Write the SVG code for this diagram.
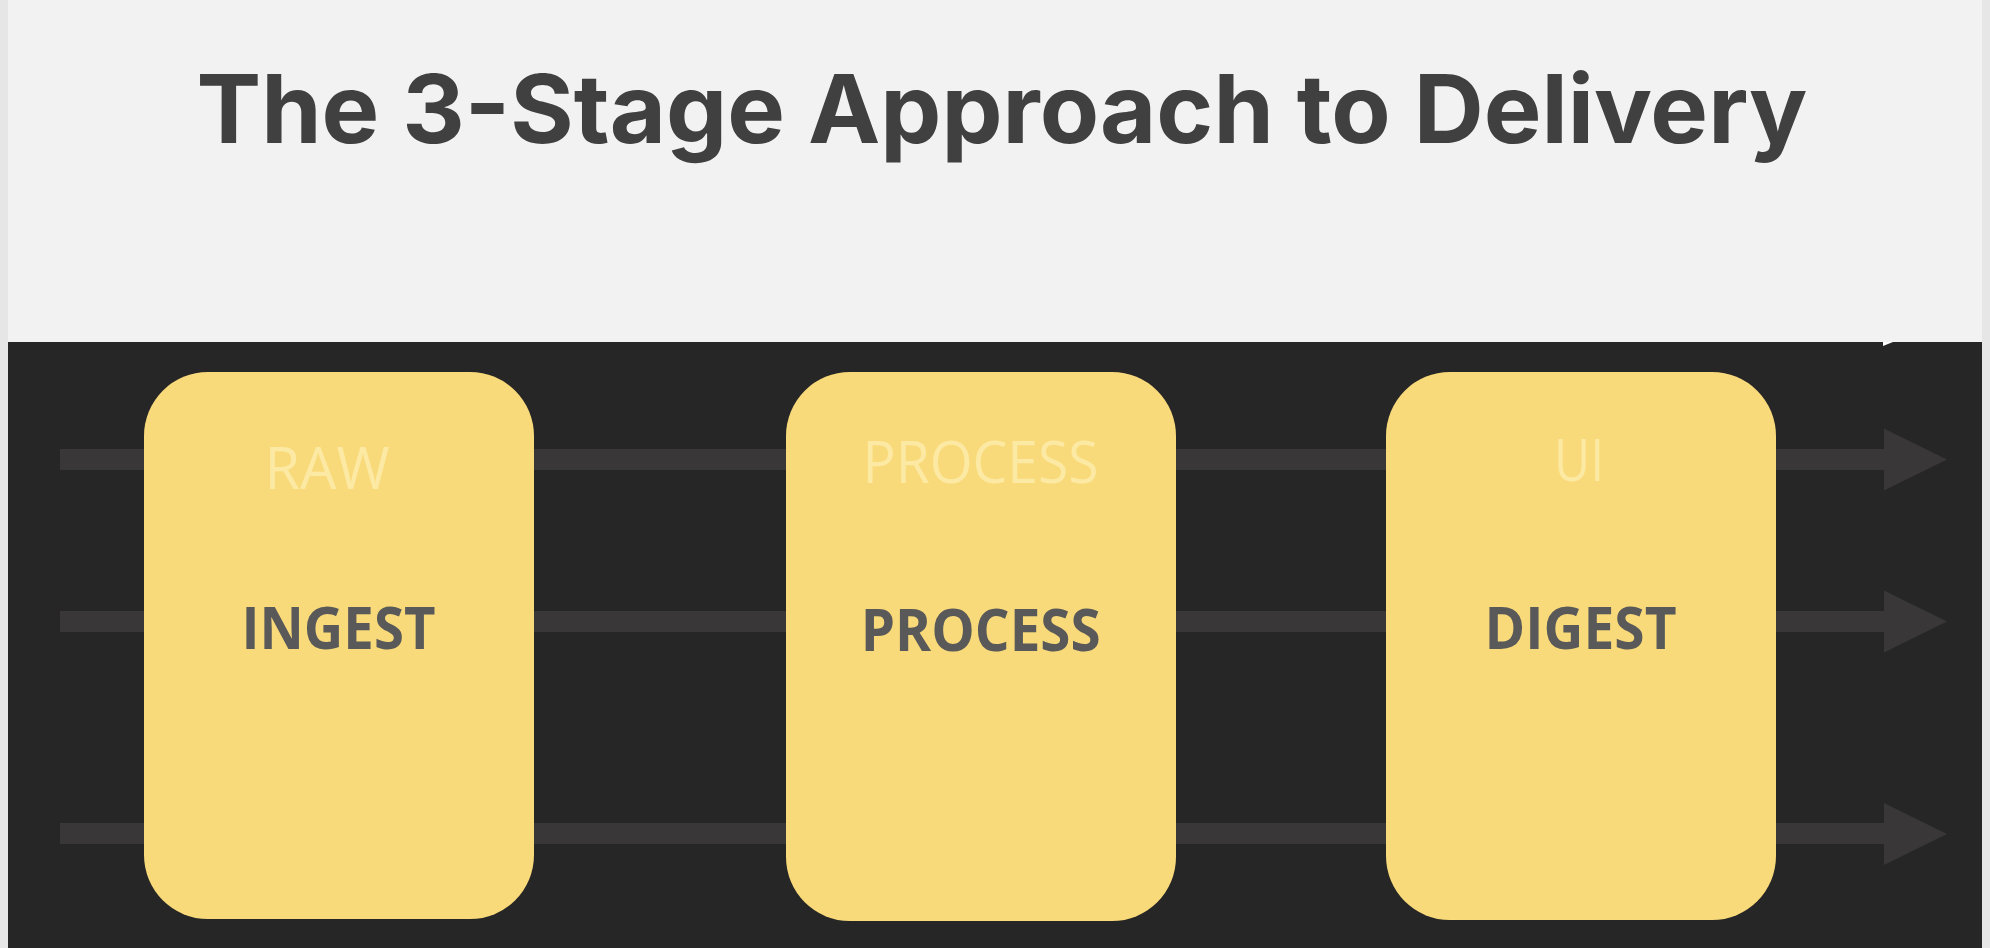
<svg xmlns="http://www.w3.org/2000/svg" width="1990" height="948" viewBox="0 0 1990 948">
  <style>
    .bar { fill: #393738; }
    .box { fill: #f9da7a; }
    .sub { font-family: "Open Sans", "Noto Sans", sans-serif; font-size: 58px; fill: #fce9a3; text-anchor: middle; }
    .main { font-family: "Open Sans", "Noto Sans", sans-serif; font-weight: 700; font-size: 59px; fill: #595959; text-anchor: middle; }
    .title { font-family: "Inter", "Lato", "DejaVu Sans", sans-serif; font-weight: 700; font-size: 95px; fill: #404040; text-anchor: middle; }
  </style>
  <rect x="0" y="0" width="1990" height="948" fill="#e6e6e6"/>
  <rect x="8" y="0" width="1974" height="342" fill="#f2f2f2"/>
  <rect x="8" y="342" width="1974" height="606" fill="#262626"/>
  <polygon points="1883,342 1893,342 1883,346" fill="#ffffff"/>
  <g id="title">
    <text class="title" x="1002" y="143" textLength="1611" lengthAdjust="spacingAndGlyphs">The 3-Stage Approach to Delivery</text>
  </g>
  <g id="connectors">
    <g id="arrow1">
      <rect class="bar" x="60" y="449" width="1825" height="21"/>
      <polygon class="bar" points="1884,428.5 1947,459.5 1884,490.5"/>
    </g>
    <g id="arrow2">
      <rect class="bar" x="60" y="611" width="1825" height="21"/>
      <polygon class="bar" points="1884,590.5 1947,621.5 1884,652.5"/>
    </g>
    <g id="arrow3">
      <rect class="bar" x="60" y="823" width="1825" height="21"/>
      <polygon class="bar" points="1884,803 1947,834 1884,865"/>
    </g>
  </g>
  <g id="ingest">
    <rect class="box" x="144" y="372" width="390" height="547" rx="64" ry="64"/>
    <text class="sub" x="327" y="489" textLength="125" lengthAdjust="spacingAndGlyphs">RAW</text>
    <text class="main" x="338.5" y="649" textLength="194" lengthAdjust="spacingAndGlyphs">INGEST</text>
  </g>
  <g id="process">
    <rect class="box" x="786" y="372" width="390" height="549" rx="64" ry="64"/>
    <text class="sub" x="980.5" y="482.5" font-size="60" textLength="236" lengthAdjust="spacingAndGlyphs">PROCESS</text>
    <text class="main" x="980.7" y="651" font-size="60" textLength="240" lengthAdjust="spacingAndGlyphs">PROCESS</text>
  </g>
  <g id="digest">
    <rect class="box" x="1386" y="372" width="390" height="548" rx="64" ry="64"/>
    <text class="sub" x="1579" y="481" font-size="60" textLength="50" lengthAdjust="spacingAndGlyphs">UI</text>
    <text class="main" x="1580.6" y="649" textLength="192" lengthAdjust="spacingAndGlyphs">DIGEST</text>
  </g>
</svg>
